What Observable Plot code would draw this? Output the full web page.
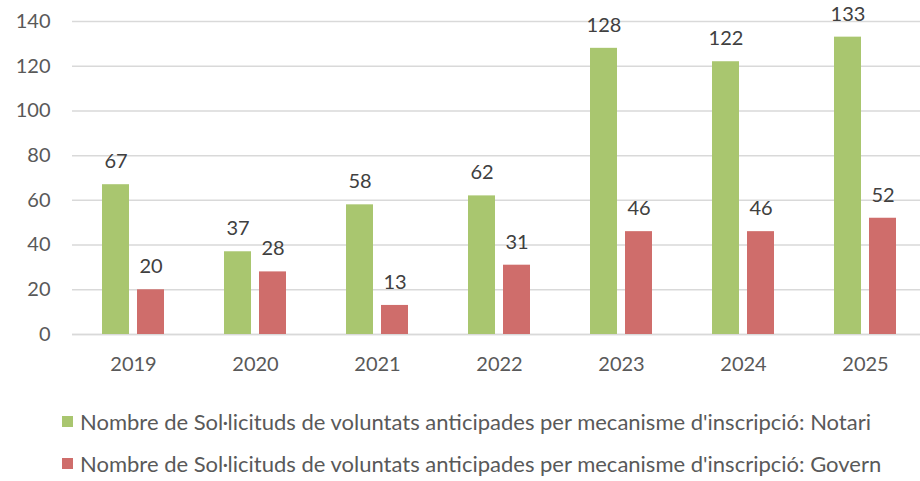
<!DOCTYPE html>
<html><head><meta charset="utf-8">
<script src="https://cdn.jsdelivr.net/npm/d3@7"></script>
<script src="https://cdn.jsdelivr.net/npm/@observablehq/plot@0.6"></script>
<style>
body{margin:0;background:#fff;font-family:Lato,"Open Sans",sans-serif;}
#wrap{position:relative;width:920px;height:481px;overflow:hidden;}
#legend{position:absolute;left:62px;top:400px;color:#595959;font-size:22px;}
.row{display:flex;align-items:center;height:42px;}
.sw{width:11px;height:11px;margin-right:7px;}
</style></head><body>
<div id="wrap"><div id="chart"></div>
<div id="legend"></div></div>
<script>
const years = ["2019","2020","2021","2022","2023","2024","2025"];
const notari = [67,37,58,62,128,122,133];
const govern = [20,28,13,31,46,46,52];
const seriesNames = ["Nombre de Sol·licituds de voluntats anticipades per mecanisme d'inscripció: Notari",
  "Nombre de Sol·licituds de voluntats anticipades per mecanisme d'inscripció: Govern"];
const seriesKeys = ["Notari","Govern"];
const colors = ["#a9c66f","#cf6d6b"];
const yTicks = [0,20,40,60,80,100,120,140];

const data = [];
years.forEach((y,i)=>{
  data.push({year:y, s:"Notari", v:notari[i]});
  data.push({year:y, s:"Govern", v:govern[i]});
});

const chart = Plot.plot({
  width: 920, height: 385,
  marginLeft: 71, marginRight: -6, marginTop: 21, marginBottom: 51,
  style: {fontFamily: "Lato, 'Open Sans', sans-serif", fontSize: "20px", color: "#595959", background: "#fff", overflow: "visible"},
  fx: {domain: years, padding: 0, label: null, tickSize: 0, tickPadding: 22, axis: "bottom"},
  x: {domain: seriesKeys, paddingInner: 0.229, paddingOuter: 0.85, axis: null},
  y: {domain: [0,140], ticks: yTicks, label: null, tickSize: 0, tickPadding: 22},
  color: {domain: seriesKeys, range: colors},
  marks: [
    Plot.gridY(yTicks, {stroke: "#d9d9d9", strokeOpacity: 1, strokeWidth: 1.5}),
    Plot.ruleY([0], {stroke: "#d9d9d9", strokeWidth: 1.5}),
    Plot.barY(data, {fx: "year", x: "s", y: "v", fill: "s"}),
    Plot.text(data, {fx: "year", x: "s", y: "v", text: d => String(d.v), dy: -23, fill: "#404040", fontSize: 20})
  ]
});
document.getElementById("chart").append(chart);

const lg = document.getElementById("legend");
seriesNames.forEach((n,i)=>{
  const r = document.createElement("div"); r.className="row";
  const s = document.createElement("div"); s.className="sw"; s.style.background = colors[i];
  const t = document.createElement("span"); t.textContent = n;
  r.append(s,t); lg.append(r);
});
</script></body></html>
